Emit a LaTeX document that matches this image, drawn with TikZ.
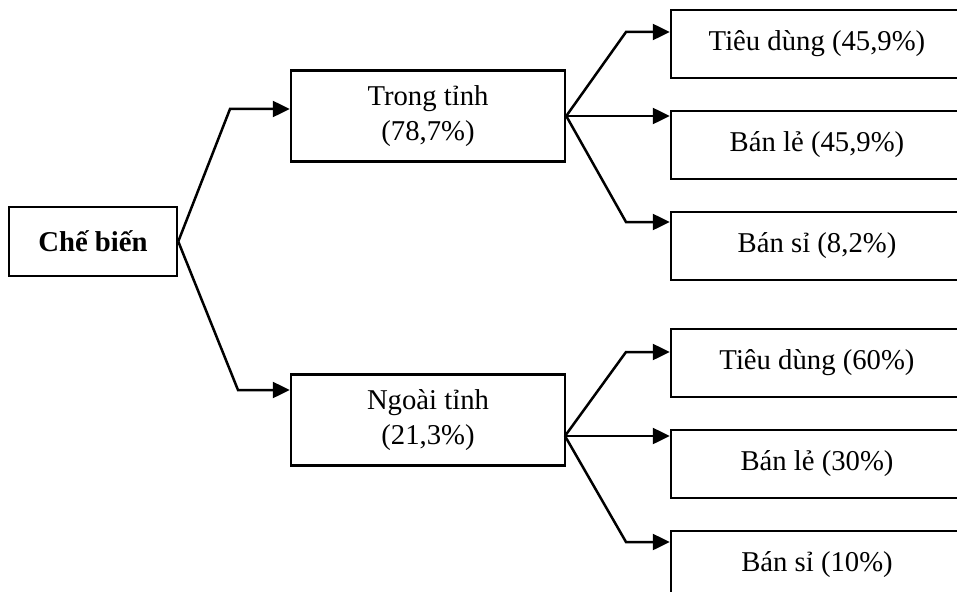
\documentclass[tikz,border=0pt]{standalone}
\usepackage{fontspec}
\setmainfont{Liberation Serif}
\usetikzlibrary{positioning,arrows.meta}

\begin{document}
\begin{tikzpicture}[
    x=1pt, y=-1pt,
    node distance=30.5pt,
    box/.style={rectangle, draw, line width=2.5pt, align=center, inner sep=0pt, font=\fontsize{28.7}{34.5}\selectfont},
    root/.style={box, minimum width=168pt, minimum height=69pt, font=\fontsize{28.7}{34.5}\selectfont\bfseries},
    mid/.style={box, minimum width=274pt, minimum height=91pt},
    leaf/.style={box, minimum width=292pt, minimum height=68pt},
    arrow/.style={-{Triangle[length=17pt, width=16pt]}, line width=2.5pt}
]
\useasboundingbox (0,0) rectangle (957,591);
\clip (0,0) rectangle (957,591);

% Blocks
\node[root] (root) at (93,241.5) {Chế biến};
\node[mid] (trong) at (428,116) {Trong tỉnh\\(78,7\%)};
\node[mid] (ngoai) at (428,420) {Ngoài tỉnh\\(21,3\%)};

\node[leaf] (td1) at (817,44) {Tiêu dùng (45,9\%)};
\node[leaf, below=of td1] (bl1) {Bán lẻ (45,9\%)};
\node[leaf, below=of bl1] (bs1) {Bán sỉ (8,2\%)};

\node[leaf] (td2) at (817,363) {Tiêu dùng (60\%)};
\node[leaf, below=of td2] (bl2) {Bán lẻ (30\%)};
\node[leaf, below=of bl2] (bs2) {Bán sỉ (10\%)};

% Bend points
\coordinate (up) at (230,109);
\coordinate (dn) at (238,390);
\coordinate (nr) at (565,436);
\coordinate (b1) at (626,32);
\coordinate (b2) at (626,222);
\coordinate (b3) at (626,352);
\coordinate (b4) at (626,542);

% First level
\draw[arrow] (root.east) -- (up) -- (up -| trong.west);
\draw[arrow] (root.east) -- (dn) -- (dn -| ngoai.west);

% Trong tinh
\draw[arrow] (trong.east) -- (b1) -- (b1 -| td1.west);
\draw[arrow] (trong.east) -- (trong.east -| bl1.west);
\draw[arrow] (trong.east) -- (b2) -- (b2 -| bs1.west);

% Ngoai tinh
\draw[arrow] (nr) -- (b3) -- (b3 -| td2.west);
\draw[arrow] (nr) -- (nr -| bl2.west);
\draw[arrow] (nr) -- (b4) -- (b4 -| bs2.west);

\end{tikzpicture}
\end{document}
